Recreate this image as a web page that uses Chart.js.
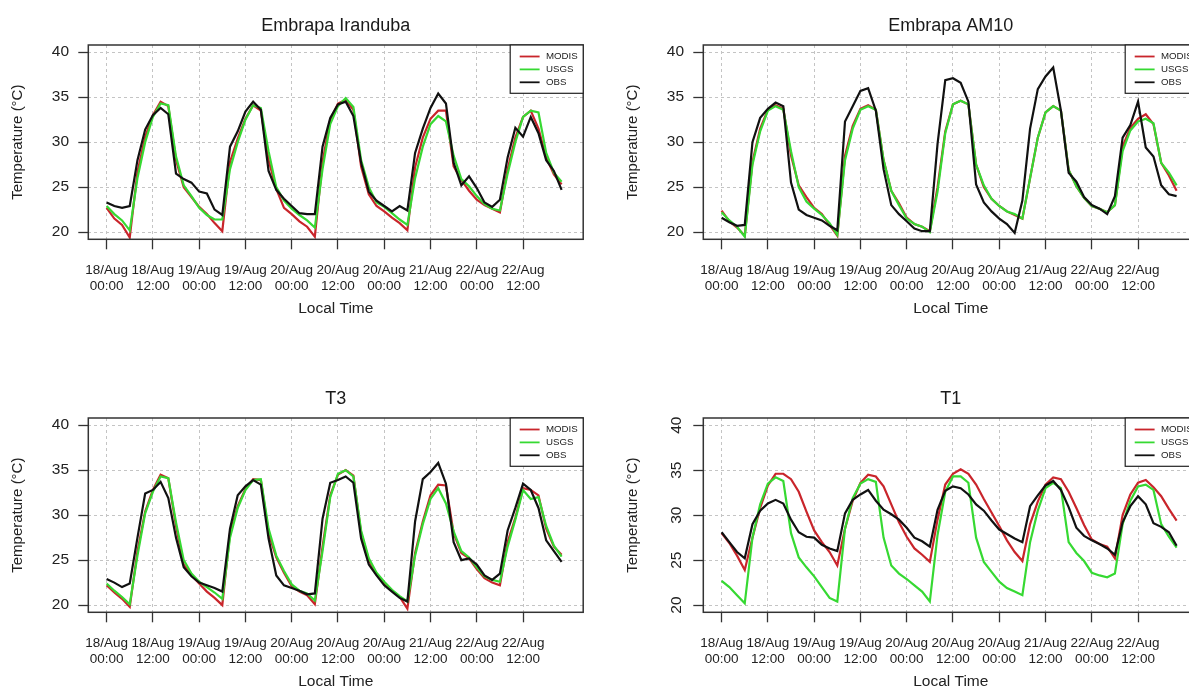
<!DOCTYPE html>
<html>
<head>
<meta charset="utf-8">
<title>Temperature</title>
<script src="https://cdn.jsdelivr.net/npm/chart.js@4.4.1/dist/chart.umd.min.js"></script>
<style>
  html, body { margin: 0; padding: 0; background: #fff; }
  body { width: 1189px; height: 687px; overflow: hidden; position: relative; }
  .panel { position: absolute; width: 615px; height: 373px; }
</style>
</head>
<body>
<div class="panel" style="left:0;top:0"><canvas id="iranduba" width="615" height="373"></canvas></div>
<div class="panel" style="left:615px;top:0"><canvas id="am10" width="615" height="373"></canvas></div>
<div class="panel" style="left:0;top:373px"><canvas id="t3" width="615" height="373"></canvas></div>
<div class="panel" style="left:615px;top:373px"><canvas id="t1" width="615" height="373"></canvas></div>
<script>
// hours since 18/Aug 00:00
const hours = [
  0, 2, 4, 6, 8, 10, 12, 14, 16, 18,
  20, 22, 24, 26, 28, 30, 32, 34, 36, 38,
  40, 42, 44, 46, 48, 50, 52, 54, 56, 58,
  60, 62, 64, 66, 68, 70, 72, 74, 76, 78,
  80, 82, 84, 86, 88, 90, 92, 94, 96, 98,
  100, 102, 104, 106, 108, 110, 112, 114, 116, 118,
];
const tickHours = [0, 12, 24, 36, 48, 60, 72, 84, 96, 108];
const tickLabels = [
  ['18/Aug', '00:00'], ['18/Aug', '12:00'], ['19/Aug', '00:00'], ['19/Aug', '12:00'],
  ['20/Aug', '00:00'], ['20/Aug', '12:00'], ['20/Aug', '00:00'], ['21/Aug', '12:00'],
  ['22/Aug', '00:00'], ['22/Aug', '12:00'],
];
const tempTicks = [20, 25, 30, 35, 40];
const seriesNames = ['MODIS', 'USGS', 'OBS'];

// Embrapa Iranduba
const irandubaModis = [
  22.7, 21.5, 20.8, 19.4, 26.7, 30.6, 33.0, 34.5, 34.0, 28.0,
  25.0, 23.9, 22.8, 22.0, 21.0, 20.1, 27.8, 30.4, 32.6, 34.1,
  33.5, 28.0, 24.8, 22.7, 22.0, 21.2, 20.6, 19.5, 27.8, 32.5,
  34.3, 34.7, 33.6, 27.3, 24.2, 22.9, 22.3, 21.6, 21.0, 20.2,
  27.2, 30.5, 32.6, 33.5, 33.5, 27.3, 25.8, 24.6, 23.6, 23.0,
  22.6, 22.2, 27.0, 30.5, 32.8, 33.5, 31.5, 28.3, 26.4, 25.3,
];
const irandubaUsgs = [
  22.9, 22.0, 21.3, 20.2, 26.0, 30.0, 32.8, 34.3, 34.1, 28.4,
  25.2, 24.0, 22.7, 21.9, 21.4, 21.4, 27.0, 30.0, 32.5, 34.1,
  33.8, 29.0, 25.0, 23.5, 22.6, 21.9, 21.3, 20.5, 27.0, 32.0,
  34.0, 34.9, 33.9, 28.0, 25.0, 23.3, 22.8, 22.1, 21.4, 20.8,
  26.0, 29.5, 32.0, 32.9, 32.3, 28.5, 25.9, 25.1, 24.0, 23.1,
  22.6, 22.4, 26.5, 30.0, 32.8, 33.5, 33.3, 28.8, 26.6, 25.6,
];
const irandubaObs = [
  23.3, 22.9, 22.7, 22.9, 28.0, 31.4, 33.0, 33.8, 33.1, 26.5,
  25.9, 25.5, 24.5, 24.3, 22.5, 21.9, 29.5, 31.2, 33.4, 34.5,
  33.6, 26.8, 24.7, 23.7, 22.9, 22.1, 22.0, 22.0, 29.5, 32.7,
  34.2, 34.5, 32.9, 27.7, 24.5, 23.5, 22.9, 22.3, 22.9, 22.4,
  28.8, 31.5, 33.8, 35.4, 34.3, 27.7, 25.2, 26.2, 24.9, 23.3,
  22.8, 23.6, 28.3, 31.6, 30.6, 32.8, 31.0, 28.0, 26.8, 24.7,
];

// Embrapa AM10
const am10Modis = [
  22.4, 21.2, 20.5, 19.6, 27.8, 31.5, 33.6, 34.1, 33.7, 28.5,
  25.2, 23.9, 22.7, 22.0, 20.8, 19.6, 28.5, 31.8, 33.7, 34.1,
  33.6, 28.0, 24.6, 23.2, 21.6, 20.9, 20.6, 20.1, 25.0, 31.2,
  34.2, 34.6, 34.2, 27.5, 25.0, 23.7, 22.9, 22.3, 21.9, 21.5,
  26.0, 30.5, 33.3, 34.0, 33.5, 26.9, 25.1, 23.8, 22.9, 22.6,
  22.2, 23.0, 29.5, 31.6, 32.6, 33.1, 32.0, 27.7, 26.3, 24.6,
];
const am10Usgs = [
  22.2, 21.3, 20.6, 19.5, 27.5, 31.2, 33.5, 34.0, 33.6, 29.0,
  25.0, 23.4, 22.6, 21.9, 21.0, 19.7, 28.0, 31.5, 33.6, 34.0,
  33.6, 28.0, 24.6, 23.0, 21.5, 20.9, 20.6, 20.0, 24.5, 31.0,
  34.2, 34.6, 34.2, 27.5, 25.2, 23.7, 22.9, 22.3, 22.0, 21.5,
  26.0, 30.5, 33.3, 34.0, 33.5, 26.9, 25.1, 23.8, 22.9, 22.6,
  22.2, 23.0, 29.0, 31.3, 32.3, 32.6, 32.1, 27.7, 26.6, 25.2,
];
const am10Obs = [
  21.6, 21.1, 20.7, 20.8, 30.0, 32.7, 33.7, 34.4, 34.0, 25.5,
  22.5, 21.9, 21.6, 21.3, 20.7, 20.2, 32.3, 34.0, 35.7, 36.0,
  33.5, 27.0, 23.0, 22.0, 21.2, 20.4, 20.1, 20.1, 29.8, 36.9,
  37.1, 36.6, 34.5, 25.3, 23.3, 22.3, 21.5, 20.9, 19.9, 23.5,
  31.5, 35.9, 37.3, 38.3, 33.5, 26.6, 25.6, 23.9, 23.0, 22.6,
  22.0, 24.0, 30.5, 31.9, 34.5, 29.4, 28.4, 25.2, 24.2, 24.0,
];

// T3
const t3Modis = [
  22.2, 21.4, 20.7, 19.8, 26.0, 30.4, 32.8, 34.5, 34.1, 28.8,
  24.5, 23.3, 22.4, 21.5, 20.8, 20.0, 28.0, 31.0, 32.9, 34.0,
  33.9, 28.0, 25.3, 23.6, 22.1, 21.5, 21.1, 20.1, 26.5, 32.2,
  34.5, 35.0, 34.4, 28.0, 25.0, 23.4, 22.4, 21.6, 20.9, 19.6,
  25.8, 29.3, 32.2, 33.4, 33.3, 28.0, 25.8, 25.2, 24.0, 23.0,
  22.5, 22.2, 27.0, 29.7, 33.0, 32.8, 32.2, 28.5, 26.5, 25.6,
];
const t3Usgs = [
  22.4, 21.6, 20.9, 20.1, 25.5, 30.2, 32.6, 34.3, 34.1, 29.2,
  25.0, 23.5, 22.6, 22.0, 21.4, 20.7, 27.5, 30.8, 32.8, 33.9,
  34.0, 28.5, 25.5, 23.8, 22.3, 21.6, 21.3, 20.5, 26.0, 32.0,
  34.6, 35.0, 34.3, 28.3, 25.2, 23.6, 22.6, 21.7, 21.0, 20.4,
  25.5, 29.0, 31.8, 33.0, 31.3, 28.2, 26.0, 25.3, 24.2, 23.2,
  22.8, 22.6, 26.5, 29.5, 32.8, 31.8, 32.0, 28.8, 26.6, 25.4,
];
const t3Obs = [
  22.9, 22.5, 22.0, 22.4, 27.5, 32.4, 32.8, 33.7, 31.9, 27.5,
  24.2, 23.2, 22.5, 22.2, 21.9, 21.5, 28.5, 32.2, 33.2, 33.9,
  33.4, 27.4, 23.3, 22.2, 21.9, 21.6, 21.2, 21.3, 29.6, 33.6,
  33.9, 34.3, 33.6, 27.4, 24.5, 23.3, 22.2, 21.5, 20.8, 20.4,
  29.3, 34.0, 34.8, 35.8, 33.5, 27.0, 25.0, 25.2, 24.5, 23.3,
  22.8, 23.5, 28.3, 30.8, 33.5, 32.8, 30.8, 27.2, 26.0, 24.8,
];

// T1
const t1Modis = [
  28.0, 26.9, 25.5, 23.9, 27.5, 30.8, 33.3, 34.6, 34.6, 34.0,
  32.6, 30.4, 28.3, 27.0, 25.9, 24.4, 28.5, 31.6, 33.6, 34.5,
  34.3, 33.2, 31.2, 29.2, 27.6, 26.3, 25.6, 24.8, 29.5, 33.4,
  34.6, 35.1, 34.6, 33.4, 31.8, 30.3, 28.8, 27.2, 25.9, 24.9,
  29.0, 31.5, 33.4, 34.2, 34.0, 32.6, 30.8, 28.9, 27.3, 26.8,
  26.5, 25.2, 30.0, 32.3, 33.6, 33.9, 33.1, 32.1, 30.7, 29.4,
];
const t1Usgs = [
  22.7, 22.0, 21.1, 20.2, 27.5, 31.2, 33.5, 34.2, 33.8, 28.0,
  25.3, 24.2, 23.2, 22.0, 20.8, 20.4, 28.5, 31.9, 33.5, 34.0,
  33.7, 27.5, 24.4, 23.5, 22.9, 22.2, 21.5, 20.4, 27.8, 32.6,
  34.3, 34.3, 33.6, 27.5, 24.8, 23.7, 22.6, 21.9, 21.5, 21.1,
  27.0, 30.5, 33.0, 33.6, 33.0, 27.0, 25.8, 24.9, 23.6, 23.3,
  23.1, 23.5, 29.0, 31.6, 33.2, 33.4, 32.8, 29.0, 27.6, 26.4,
];
const t1Obs = [
  28.1, 27.0, 25.9, 25.2, 29.0, 30.5, 31.3, 31.7, 31.3, 29.5,
  28.1, 27.6, 27.5, 26.7, 26.3, 26.0, 30.2, 31.7, 32.3, 32.8,
  31.6, 30.6, 30.1, 29.5, 28.6, 27.5, 27.1, 26.5, 30.6, 32.7,
  33.2, 33.0, 32.3, 31.2, 30.5, 29.4, 28.4, 27.9, 27.4, 27.0,
  31.0, 32.2, 33.3, 33.8, 32.8, 30.9, 28.6, 27.7, 27.2, 26.8,
  26.3, 25.6, 29.2, 31.0, 32.1, 31.2, 29.1, 28.7, 28.1, 26.6,
];

const fontFamily = '"Liberation Sans", Arial, sans-serif';
const lineColors = { MODIS: '#c9252b', USGS: '#36d932', OBS: '#111111' };

Chart.defaults.font.family = fontFamily;
Chart.defaults.color = '#222';

// R style box around the plot plus the small legend in the top right corner
const frameAndKey = {
  id: 'frameAndKey',
  afterDraw(chart) {
    const { ctx, chartArea: area } = chart;
    ctx.save();
    ctx.lineWidth = 1.5;
    ctx.strokeStyle = '#333';
    ctx.strokeRect(area.left, area.top, area.right - area.left, area.bottom - area.top);

    const boxW = 73;
    const boxH = 48.3;
    const bx = area.right - boxW;
    const by = area.top;
    ctx.fillStyle = '#fff';
    ctx.fillRect(bx, by, boxW, boxH);
    ctx.lineWidth = 1.2;
    ctx.strokeStyle = '#222';
    ctx.strokeRect(bx, by, boxW, boxH);
    ctx.font = '9.7px ' + fontFamily;
    ctx.textBaseline = 'middle';
    chart.data.datasets.forEach((ds, i) => {
      const y = by + 11.5 + i * 12.9;
      ctx.strokeStyle = ds.borderColor;
      ctx.lineWidth = 1.8;
      ctx.beginPath();
      ctx.moveTo(bx + 9.5, y);
      ctx.lineTo(bx + 29.4, y);
      ctx.stroke();
      ctx.fillStyle = '#222';
      ctx.fillText(ds.label, bx + 35.8, y);
    });
    ctx.restore();
  },
};

function drawPanel(canvasId, title, modis, usgs, obs, sideways) {
  const series = { MODIS: modis, USGS: usgs, OBS: obs };
  const datasets = seriesNames.map((name, i) => ({
    label: name,
    data: series[name],
    borderColor: lineColors[name],
    borderWidth: 2.2,
    pointRadius: 0,
    tension: 0,
    order: seriesNames.length - 1 - i,
  }));

  const yTickOpts = sideways
    ? { font: { size: 15.5 }, padding: 7.7, minRotation: 90, maxRotation: 90, crossAlign: 'center', autoSkip: false }
    : { font: { size: 15.5 }, padding: 9.3, autoSkip: false };

  return new Chart(document.getElementById(canvasId), {
    type: 'line',
    data: { labels: hours, datasets },
    options: {
      responsive: false,
      animation: false,
      events: [],
      layout: { padding: { left: 0, right: 31.8, top: 0, bottom: 0 } },
      plugins: {
        legend: { display: false },
        tooltip: { enabled: false },
        title: {
          display: true,
          text: title,
          fullSize: false,
          color: '#1a1a1a',
          font: { size: 18, weight: 'normal' },
          padding: { top: 15.2, bottom: 8.2 },
        },
      },
      scales: {
        x: {
          type: 'linear',
          bounds: 'data',
          min: -4.75,
          max: 123.6,
          afterBuildTicks: (scale) => {
            scale.ticks = tickHours.map((v) => ({ value: v }));
          },
          afterFit: (scale) => {
            scale.height = 133.7;
          },
          ticks: {
            callback: (value, index) => tickLabels[index],
            font: { size: 13.5 },
            padding: 12.6,
            autoSkip: false,
            minRotation: 0,
            maxRotation: 0,
          },
          grid: { color: '#c4c4c4', lineWidth: 1, tickLength: 10, tickColor: '#333', tickWidth: 1.3 },
          border: { display: false, dash: [3, 3] },
          title: {
            display: true,
            text: 'Local Time',
            font: { size: 15.5 },
            padding: { top: 0, bottom: 55.4 },
          },
        },
        y: {
          min: 19.2,
          max: 40.8,
          afterBuildTicks: (scale) => {
            scale.ticks = tempTicks.map((v) => ({ value: v }));
          },
          afterFit: (scale) => {
            scale.width = 88.3;
          },
          ticks: yTickOpts,
          grid: { color: '#c4c4c4', lineWidth: 1, tickLength: 10, tickColor: '#333', tickWidth: 1.3 },
          border: { display: false, dash: [3, 3] },
          title: {
            display: true,
            text: 'Temperature (°C)',
            font: { size: 15 },
            padding: { top: 9, bottom: 0 },
          },
        },
      },
    },
    plugins: [frameAndKey],
  });
}

drawPanel('iranduba', 'Embrapa Iranduba', irandubaModis, irandubaUsgs, irandubaObs, false);
drawPanel('am10', 'Embrapa AM10', am10Modis, am10Usgs, am10Obs, false);
drawPanel('t3', 'T3', t3Modis, t3Usgs, t3Obs, false);
drawPanel('t1', 'T1', t1Modis, t1Usgs, t1Obs, true);
</script>
</body>
</html>
